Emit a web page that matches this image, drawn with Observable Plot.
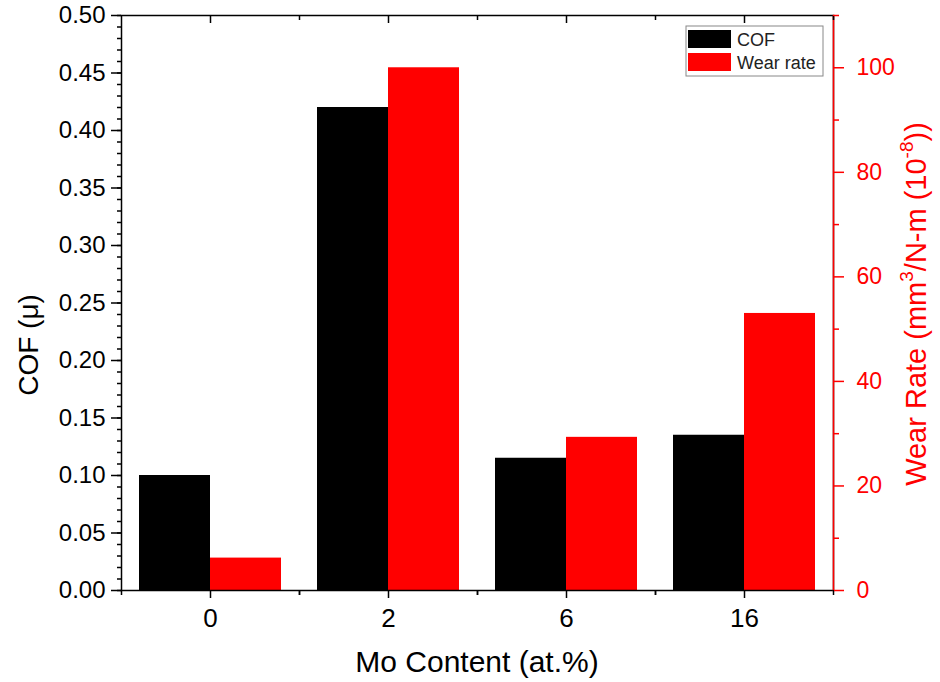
<!DOCTYPE html>
<html><head><meta charset="utf-8">
<script src="https://cdn.jsdelivr.net/npm/d3@7"></script>
<script src="https://cdn.jsdelivr.net/npm/@observablehq/plot@0.6"></script>
<style>
body{margin:0;background:#fff}
#chart{position:relative;width:940px;height:682px}
</style>
</head><body><div id="chart"></div>
<script>
// ---- data ----
const categories = ["0", "2", "6", "16"];
const cofValues = [0.10, 0.42, 0.115, 0.135];
const wearValues = [6.2, 100, 29.3, 53];
const cofDomain = [0, 0.5];
const wearDomain = [0, 110];
const wearMajorTicks = [0, 20, 40, 60, 80, 100];
const wearMinorTicks = [10, 30, 50, 70, 90, 110];
const seriesNames = ["COF", "Wear rate"];
const seriesColors = ["#000000", "#ff0000"];
const xTitle = "Mo Content (at.%)";
const yLeftTitle = "COF (μ)";

// ---- build ----
const k = cofDomain[1] / wearDomain[1];
const rows = categories.map((c, i) => ({cat: c, cof: cofValues[i], wear: wearValues[i] * k}));
const W = 940, H = 682, mL = 121, mR = 107, mT = 15, mB = 92;
const step = (W - mL - mR) / categories.length;
const half = step / 2;
const gap = 18;
const font = "'Liberation Sans', Arial, sans-serif";

const plot = Plot.plot({
  width: W, height: H,
  marginLeft: mL, marginRight: mR, marginTop: mT, marginBottom: mB,
  style: {fontFamily: font, fontSize: "22px", color: "#000", background: "#fff"},
  x: {type: "band", domain: categories, padding: 0, axis: null},
  y: {domain: cofDomain, axis: null},
  marks: [
    Plot.barY(rows, {x: "cat", y: "cof", fill: seriesColors[0], insetLeft: gap, insetRight: half}),
    Plot.barY(rows, {x: "cat", y: "wear", fill: seriesColors[1], insetLeft: half, insetRight: gap}),
    Plot.frame({stroke: "#000", strokeWidth: 1.5}),
    Plot.frame({anchor: "right", stroke: "#ff0000", strokeWidth: 1.5}),
    // bottom axis
    Plot.axisX({anchor: "bottom", tickSize: 8, tickPadding: 10, fontSize: 26, label: null, strokeWidth: 1.5}),
    Plot.axisX({anchor: "bottom", tickSize: 5, dx: half, tickFormat: () => "", label: null, strokeWidth: 1.5}),
    Plot.axisX({anchor: "bottom", tickSize: 5, dx: -half, tickFormat: () => "", label: null, strokeWidth: 1.5}),
    // top mirrored ticks (inward)
    Plot.axisX({anchor: "top", tickSize: 7, dy: 7, tickFormat: () => "", label: null, strokeWidth: 1.5}),
    Plot.axisX({anchor: "top", tickSize: 4, dy: 4, dx: half, tickFormat: () => "", label: null, strokeWidth: 1.5}),
    // left axis
    Plot.axisY({anchor: "left", ticks: 10, tickSize: 10, tickPadding: 6, fontSize: 24, tickFormat: d3.format(".2f"), label: null, strokeWidth: 1.5}),
    Plot.axisY({anchor: "left", ticks: 50, tickSize: 4, tickFormat: () => "", label: null, strokeWidth: 1.5}),
    // right axis (wear rate, rescaled)
    Plot.axisY({anchor: "right", ticks: wearMajorTicks.map(v => v * k), tickSize: 10, tickPadding: 13, fontSize: 23,
      tickFormat: d => String(Math.round(d / k)), label: null, color: "#ff0000", strokeWidth: 1.5}),
    Plot.axisY({anchor: "right", ticks: wearMinorTicks.map(v => v * k), tickSize: 5,
      tickFormat: () => "", label: null, color: "#ff0000", strokeWidth: 1.5})
  ]
});

const svg = d3.select(plot);
// x title
svg.append("text")
  .attr("x", mL + (W - mL - mR) / 2).attr("y", 664)
  .attr("text-anchor", "middle").attr("dominant-baseline", "middle")
  .attr("fill", "#000").attr("font-size", 30).attr("font-family", font)
  .text(xTitle);
// left title
svg.append("text")
  .attr("transform", `translate(31,345) rotate(-90)`)
  .attr("text-anchor", "middle").attr("dominant-baseline", "middle")
  .attr("fill", "#000").attr("font-size", 28).attr("font-family", font)
  .text(yLeftTitle);
// right axis title with superscripts
const rt = svg.append("text")
  .attr("transform", `translate(918,304) rotate(-90)`)
  .attr("text-anchor", "middle").attr("dominant-baseline", "middle")
  .attr("fill", "#ff0000").attr("font-size", 29).attr("font-family", font);
rt.append("tspan").text("Wear Rate (mm");
rt.append("tspan").attr("baseline-shift", "super").attr("font-size", 19).text("3");
rt.append("tspan").text("/N-m (10");
rt.append("tspan").attr("baseline-shift", "super").attr("font-size", 19).text("-8");
rt.append("tspan").text("))");

// legend
const lg = svg.append("g").attr("font-family", font).attr("text-anchor", "start");
lg.append("rect").attr("x", 686).attr("y", 26).attr("width", 137).attr("height", 50)
  .attr("fill", "#fff").attr("stroke", "#888").attr("stroke-width", 1);
seriesNames.forEach((name, i) => {
  lg.append("rect").attr("x", 688).attr("y", 30 + i * 23).attr("width", 43).attr("height", 18)
    .attr("fill", seriesColors[i]);
  lg.append("text").attr("x", 737).attr("y", 46 + i * 23).attr("font-size", 18)
    .attr("text-anchor", "start").attr("fill", "#222").text(name);
});

document.getElementById("chart").appendChild(plot);
</script>
</body></html>
